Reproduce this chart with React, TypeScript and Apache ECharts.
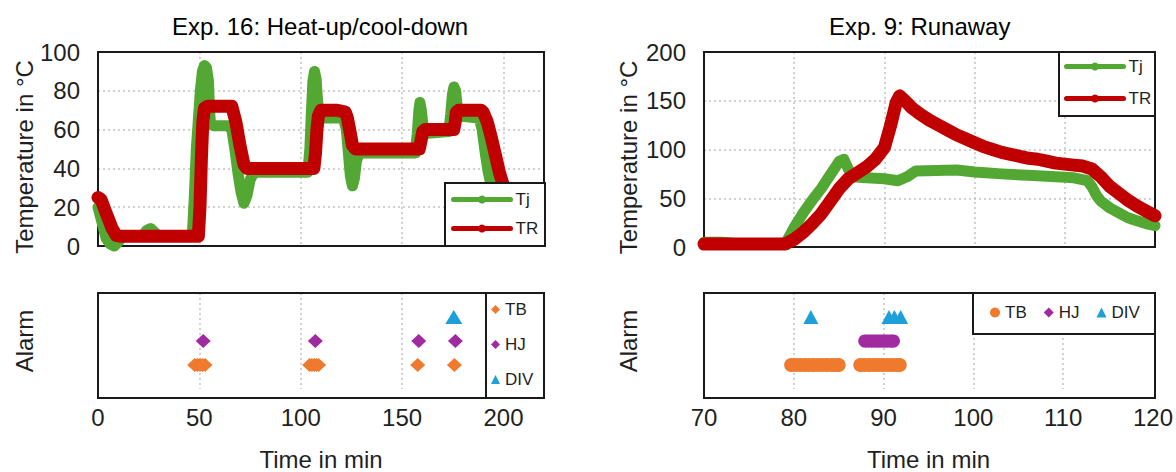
import React, { useEffect, useRef } from "react";
import * as echarts from "echarts";

// ---------- Exp. 16: Heat-up/cool-down (left) ----------
const tjLeft: number[][] = [
  [0, 20], [2, 12], [4, 4], [6, 1], [8, 0], [10, 2], [12, 5], [22, 5], [24, 8], [26, 9], [28, 7], [30, 5],
  [46.5, 5], [47.5, 25], [48.5, 50], [49.5, 65], [50.5, 80], [51.5, 90], [52.5, 93], [53.5, 92], [54.5, 85],
  [55, 70], [55.5, 63], [57, 62], [64, 62], [66, 60], [67.5, 50], [69, 38], [70.5, 28], [72, 22], [73.5, 26],
  [75, 34], [77, 38], [103.5, 38], [104.5, 50], [105.3, 70], [106, 85], [106.8, 90], [107.6, 86], [108.3, 75],
  [109, 68], [110.5, 66], [121, 66], [122.5, 60], [123.5, 48], [124.5, 36], [125.5, 31], [126.5, 35],
  [127.5, 44], [129, 48], [156.5, 48], [157.5, 58], [158.3, 70], [158.8, 74], [159.5, 70], [160.3, 62],
  [161.3, 58], [173, 59], [174, 68], [174.8, 78], [175.6, 82], [176.4, 80], [177.2, 72], [178, 67], [188, 66],
  [189.5, 60], [191, 48], [192.5, 38], [194, 31], [196, 26], [198, 22],
];
const trLeft: number[][] = [
  [0, 25], [1.5, 24], [4, 17], [7, 9], [9, 5.5], [11, 5], [49.5, 5], [50.3, 20], [51, 45], [51.7, 64],
  [52.5, 71], [54, 72], [66, 72], [68, 64], [70, 52], [72, 42], [73.5, 40], [106.5, 40], [107.3, 48],
  [108, 60], [108.7, 67], [110, 70], [118, 70], [122, 69], [123, 66], [124.5, 58], [125.5, 52], [127, 50],
  [158.5, 50], [159.3, 54], [160.2, 59], [161.5, 60], [175.5, 60], [176.2, 64], [176.8, 69], [178, 70],
  [189, 70], [190, 69], [192, 64], [194, 56], [196, 47], [198, 38], [200, 31], [202, 27],
];
const tbLeft = [47.7, 49, 50.3, 51.5, 52.8, 104.4, 105.5, 106.6, 107.7, 108.8, 157.7, 175.8];
const hjLeft = [51.9, 107.2, 158.2, 176.3];
const divLeft = [175.5];

// ---------- Exp. 9: Runaway (right) ----------
const tjRight: number[][] = [
  [70, 5], [72, 5], [74, 3], [79, 3], [80, 20], [81, 35], [82, 48], [83, 60], [84, 74], [85, 88], [85.5, 90],
  [86, 80], [86.5, 72], [88, 71], [90, 70], [91.5, 68], [92.5, 72], [93.5, 78], [98, 79], [100, 77],
  [103, 75], [107, 73], [111, 71], [112.5, 68], [113, 62], [113.5, 53], [114, 47], [115, 40], [116, 35],
  [117, 30], [118, 27], [119, 24], [120, 22],
];
const trRight: number[][] = [
  [70, 3], [79, 3], [80, 8], [81, 15], [82, 24], [83, 34], [84, 47], [85, 60], [86, 70], [87, 76], [88, 82],
  [89, 90], [90, 102], [90.7, 125], [91.3, 148], [91.7, 155], [92.5, 148], [93, 143], [94, 136], [95, 130],
  [96, 125], [97, 120], [98, 115], [99, 111], [100, 107], [101, 103], [102, 100], [103, 97], [104, 95],
  [105, 93], [106, 91], [107, 90], [108, 88], [109, 86], [110, 85], [111, 84], [112, 83], [113, 80],
  [114, 72], [115, 62], [116, 55], [117, 48], [118, 42], [119, 37], [120, 32],
];
const tbRight = [
  79.7, 80.2, 80.7, 81.2, 81.7, 82.2, 82.7, 83.2, 83.7, 84.2, 84.6, 85.0,
  87.4, 87.9, 88.4, 88.9, 89.4, 89.9, 90.4, 90.9, 91.4, 91.8,
];
const hjRight = [87.9, 88.2, 88.5, 88.8, 89.1, 89.4, 89.7, 90.0, 90.3, 90.6, 90.9, 91.1];
const divRight = [81.9, 90.6, 91.2, 91.9];

// Alarm rows
const ALARM_ROW = { TB: 1, HJ: 2, DIV: 3 };
const leftTicksX = { min: 0, max: 220, interval: 50 };
const rightTicksX = { min: 70, max: 120, interval: 10 };
const leftTicksY = { min: 0, max: 100, interval: 20 };
const rightTicksY = { min: 0, max: 200, interval: 50 };

const titles = ["Exp. 16: Heat-up/cool-down", "Exp. 9: Runaway"];

const GREEN = "#52a833";
const RED = "#c00000";
const ORANGE = "#ef7a2e";
const PURPLE = "#a12aa1";
const BLUE = "#1e9fd8";
const FONT = "Liberation Sans, Arial, sans-serif";
const TXT = "#1f1f1f";

// plot frames [left, top, width, height]
const FRAMES = [
  [98, 52, 446, 194],
  [98, 293, 446, 105],
  [704, 52, 451, 195],
  [704, 293, 451, 105],
];

export default function App() {
  const ref = useRef<HTMLDivElement>(null);
  useEffect(() => {
    if (!ref.current) return;
    const chart = echarts.init(ref.current, null, { renderer: "svg" });

    const split = {
      show: true,
      showMinLine: false,
      showMaxLine: false,
      lineStyle: { type: [2, 3], color: "#c4c4c4", width: 1.5 },
    };
    const hidden = { axisTick: { show: false }, axisLine: { show: false } };
    const lbl = { fontSize: 24, color: TXT, fontFamily: FONT };
    const nameLbl = { ...lbl, padding: [0, 16, 0, 0] };

    const xAxisBase = (gi: number, t: any, withLabels: boolean) => ({
      gridIndex: gi,
      type: "value",
      ...t,
      ...hidden,
      splitLine: split,
      axisLabel: withLabels
        ? { ...lbl, margin: 16, showMaxLabel: t.max === 220 ? false : true }
        : { show: false },
      ...(withLabels
        ? { name: "Time in min", nameLocation: "middle", nameGap: 58, nameTextStyle: { ...lbl } }
        : {}),
    });

    const lineS = (name: string, gi: number, data: number[][], color: string, w: number) => ({
      type: "line",
      name,
      xAxisIndex: gi,
      yAxisIndex: gi,
      data,
      symbol: "circle",
      symbolSize: 6,
      showSymbol: false,
      clip: false,
      lineStyle: { color, width: w, cap: "round", join: "round" },
      itemStyle: { color },
      z: 2,
    });
    const scat = (name: string, gi: number, xs: number[], row: number, color: string, symbol: string, size: any) => ({
      type: "scatter",
      name,
      xAxisIndex: gi,
      yAxisIndex: gi,
      data: xs.map((t) => [t, row]),
      symbol,
      symbolSize: size,
      itemStyle: { color, opacity: 1 },
      z: 2,
    });

    const frameRects = FRAMES.map(([x, y, w, h]) => ({
      type: "rect",
      z: 1,
      silent: true,
      shape: { x, y, width: w, height: h },
      style: { fill: "none", stroke: "#1a1a1a", lineWidth: 2 },
    }));

    chart.setOption({
      animation: false,
      textStyle: { fontFamily: FONT },
      title: [
        { text: titles[0], left: 167, top: 9, textStyle: { fontSize: 24, fontWeight: "normal", color: "#000", fontFamily: FONT } },
        { text: titles[1], left: 824, top: 9, textStyle: { fontSize: 24, fontWeight: "normal", color: "#000", fontFamily: FONT } },
      ],
      grid: FRAMES.map(([left, top, width, height]) => ({ left, top, width, height, show: false })),
      xAxis: [
        xAxisBase(0, leftTicksX, false),
        xAxisBase(1, leftTicksX, true),
        xAxisBase(2, rightTicksX, false),
        xAxisBase(3, rightTicksX, true),
      ],
      yAxis: [
        {
          gridIndex: 0, type: "value", ...leftTicksY, ...hidden, splitLine: split,
          axisLabel: { ...lbl, margin: 18 },
          name: "Temperature in °C", nameLocation: "middle", nameGap: 62, nameTextStyle: nameLbl,
        },
        {
          gridIndex: 1, type: "value", min: 0, max: 4, ...hidden, splitLine: { show: false },
          axisLabel: { show: false },
          name: "Alarm", nameLocation: "middle", nameGap: 62, nameTextStyle: { ...lbl },
        },
        {
          gridIndex: 2, type: "value", ...rightTicksY, ...hidden, splitLine: split,
          axisLabel: { ...lbl, margin: 18 },
          name: "Temperature in °C", nameLocation: "middle", nameGap: 64, nameTextStyle: nameLbl,
        },
        {
          gridIndex: 3, type: "value", min: 0, max: 4, ...hidden, splitLine: { show: false },
          axisLabel: { show: false },
          name: "Alarm", nameLocation: "middle", nameGap: 64, nameTextStyle: { ...lbl },
        },
      ],
      legend: [
        {
          orient: "vertical", left: 451, top: 191, padding: 0, itemGap: 12, itemWidth: 57, itemHeight: 10,
          z: 10, selectedMode: false,
          lineStyle: { width: 5 },
          textStyle: { fontSize: 17, color: TXT, fontFamily: FONT },
          data: ["Tj", "TR"],
        },
        {
          orient: "vertical", left: 1064, top: 58, padding: 0, itemGap: 15, itemWidth: 57, itemHeight: 10,
          z: 10, selectedMode: false,
          lineStyle: { width: 5 },
          textStyle: { fontSize: 17, color: TXT, fontFamily: FONT },
          data: ["Tj", "TR"],
        },
        {
          orient: "vertical", left: 491, top: 301, padding: 0, itemGap: 18, itemWidth: 9, itemHeight: 9,
          z: 10, selectedMode: false,
          textStyle: { fontSize: 17, color: TXT, fontFamily: FONT },
          data: [
            { name: "TB", icon: "diamond" },
            { name: "HJ", icon: "diamond" },
            { name: "DIV", icon: "triangle" },
          ],
        },
        {
          orient: "horizontal", left: 990, top: 304, padding: 0, itemGap: 17, itemWidth: 10, itemHeight: 10,
          z: 10, selectedMode: false,
          textStyle: { fontSize: 17, color: TXT, fontFamily: FONT },
          data: [
            { name: "TB", icon: "circle" },
            { name: "HJ", icon: "diamond" },
            { name: "DIV", icon: "triangle" },
          ],
        },
      ],
      graphic: [
        ...frameRects,
        { type: "rect", z: 5, shape: { x: 445, y: 183, width: 100, height: 63 }, style: { fill: "#fff", stroke: "#1a1a1a", lineWidth: 2 } },
        { type: "rect", z: 5, shape: { x: 1059, y: 52, width: 96, height: 64 }, style: { fill: "#fff", stroke: "#1a1a1a", lineWidth: 2 } },
        { type: "rect", z: 5, shape: { x: 486, y: 293, width: 58, height: 105 }, style: { fill: "#fff", stroke: "#1a1a1a", lineWidth: 2 } },
        { type: "rect", z: 5, shape: { x: 973, y: 293, width: 182, height: 41 }, style: { fill: "#fff", stroke: "#1a1a1a", lineWidth: 2 } },
      ],
      series: [
        lineS("Tj", 0, tjLeft, GREEN, 11),
        lineS("TR", 0, trLeft, RED, 13),
        lineS("Tj", 2, tjRight, GREEN, 11),
        lineS("TR", 2, trRight, RED, 13),
        scat("TB", 1, tbLeft, ALARM_ROW.TB, ORANGE, "diamond", [15, 14]),
        scat("HJ", 1, hjLeft, ALARM_ROW.HJ, PURPLE, "diamond", [15, 14]),
        scat("DIV", 1, divLeft, ALARM_ROW.DIV, BLUE, "triangle", [17, 14]),
        scat("TB", 3, tbRight, ALARM_ROW.TB, ORANGE, "circle", 14),
        scat("HJ", 3, hjRight, ALARM_ROW.HJ, PURPLE, "circle", 13),
        scat("DIV", 3, divRight, ALARM_ROW.DIV, BLUE, "triangle", [15, 14]),
      ],
    });
    return () => chart.dispose();
  }, []);
  return <div ref={ref} style={{ position: "fixed", left: 0, top: 0, width: 1176, height: 472, background: "#fff" }} />;
}
